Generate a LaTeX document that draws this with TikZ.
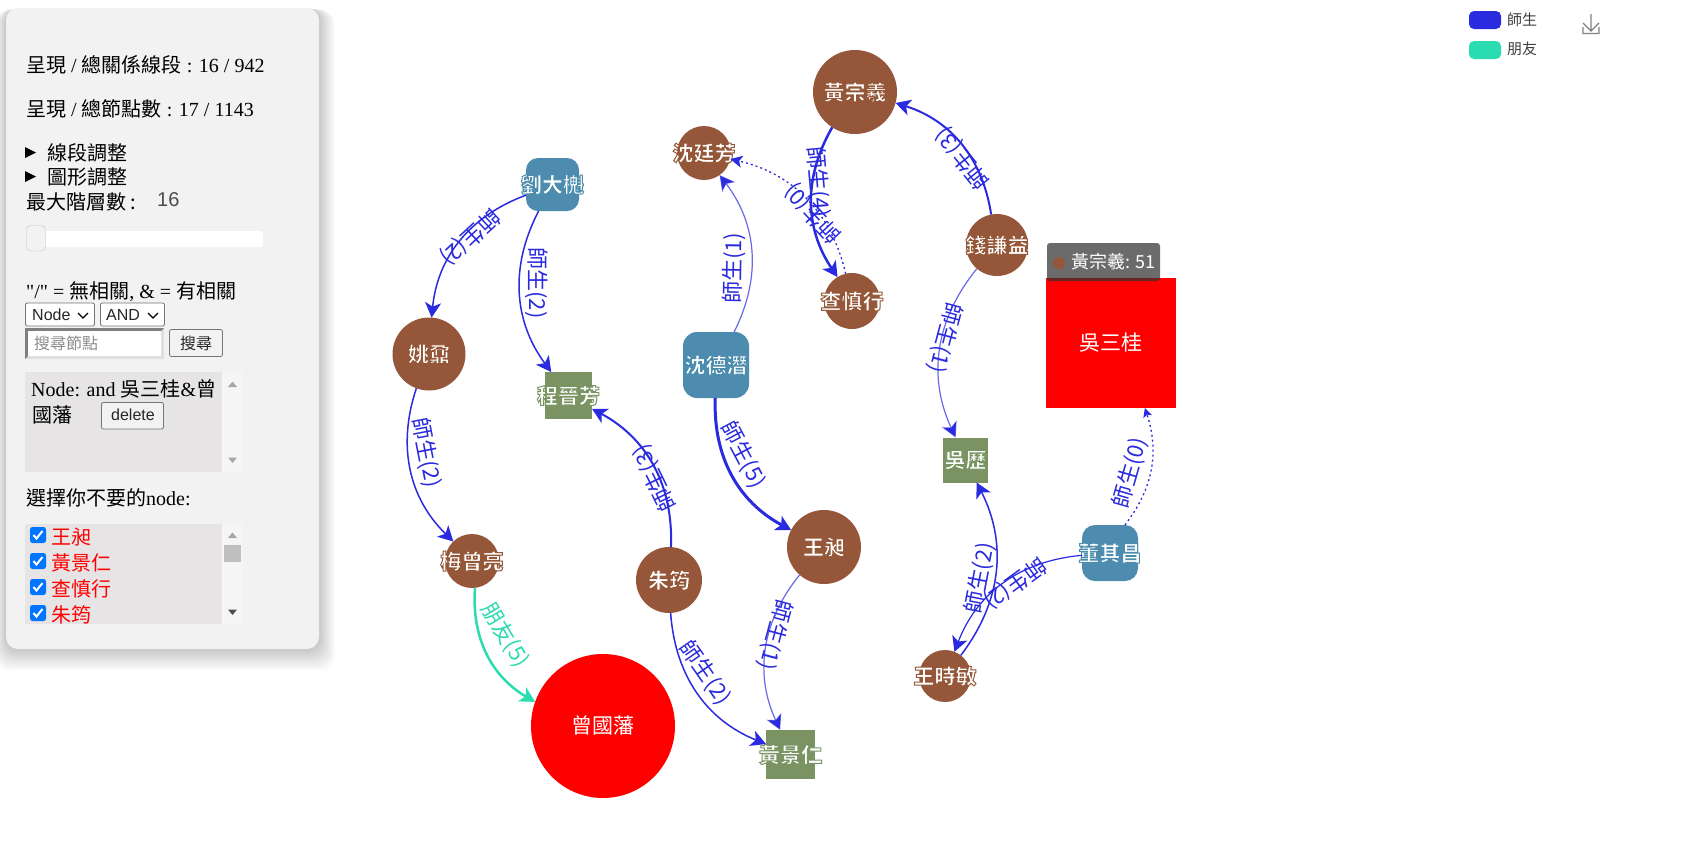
\documentclass[tikz,border=0pt]{standalone}
\usepackage{fontspec}
\usetikzlibrary{arrows.meta}
\setmainfont{Liberation Serif}
\setsansfont{Liberation Sans}
\newfontfamily\cjk{Noto Sans CJK TC}
\newfontfamily\plainserif{Liberation Serif}
\definecolor{nodebrown}{HTML}{955639}
\definecolor{nodeblue}{HTML}{4D8CAE}
\definecolor{nodegreen}{HTML}{7B9363}
\definecolor{edgeblue}{HTML}{2A2ADF}
\definecolor{edgegreen}{HTML}{2ADCB0}
\definecolor{panelgray}{HTML}{F2F2F2}
\definecolor{boxgray}{HTML}{E6E4E5}
\definecolor{checkblue}{HTML}{0075FF}
\newcommand{\px}[1]{\fontsize{#1}{#1}\selectfont}
\newcommand{\tc}[1]{{\cjk #1}}
\newcommand{\halo}[2]{\makebox[0pt][c]{\raisebox{2pt}{\special{pdf:code q 2 Tr 1 w #1 RG}\bfseries #2\special{pdf:code Q}}}}
\tikzset{
  graphname/.style={text=white,font=\cjk\px{21}},
  circ/.style={circle,fill=#1,graphname,inner sep=0pt,outer sep=0pt},
  squ/.style={rectangle,fill=#1,graphname,inner sep=0pt,outer sep=0pt},
  rsq/.style={rectangle,rounded corners=#1,fill=nodeblue,graphname,inner sep=0pt,outer sep=0pt},
  rel/.style={-{Stealth[length=15pt,width=16pt,inset=4pt]},edgeblue,line width=#1},
  weakrel/.style={rel=1.2pt,draw opacity=.7},
  zerorel/.style={-{Stealth[length=12pt,width=12pt,inset=3pt]},edgeblue,line width=1.3pt,dash pattern=on 2pt off 3pt},
  rlabel/.style={text=edgeblue,font=\cjk\px{22},inner sep=0pt},
  panel/.style={anchor=west,text=black,font=\px{20},inner sep=0pt},
  ctrl/.style={rounded corners=2pt,draw=black!54,line width=.8pt,fill=#1},
  ctrltext/.style={text=black!85,font=\sffamily\px{16},inner sep=0pt}
}
\newcommand{\brownname}[1]{\halo{0.58 0.34 0.22}{#1}}
\newcommand{\bluename}[1]{\halo{0.30 0.55 0.68}{#1}}
\newcommand{\greenname}[1]{\halo{0.48 0.58 0.39}{#1}}
\begin{document}
\begin{tikzpicture}[x=1pt,y=1pt]
\useasboundingbox (0,0) rectangle (1695,-863);
\fill[white] (0,0) rectangle (1695,-863);

% left panel
\foreach \s in {1,...,18}
  \fill[black,opacity=.012,rounded corners=14pt] (6-\s*.6,-8-\s*.1) rectangle (319+\s*.9,-649-\s*1.2);
\fill[panelgray,rounded corners=12pt] (6,-8) rectangle (319,-649);

\node[panel] (shown1) at (26,-65) {\tc{呈現} / \tc{總關係線段} : 16 / 942};
\node[panel] (shown2) at (26,-109) {\tc{呈現} / \tc{總節點數} : 17 / 1143};
\fill (25,-147) -- (36,-152.5) -- (25,-158) -- cycle;
\node[panel,font=\cjk\px{20}] (lineadj) at (47,-153) {線段調整};
\fill (25,-171) -- (36,-176.5) -- (25,-182) -- cycle;
\node[panel,font=\cjk\px{20}] (shapeadj) at (47,-177) {圖形調整};
\node[panel,font=\cjk\px{20}] (maxdepth) at (26,-202) {最大階層數 :};
\node[anchor=west,text=black!70,font=\sffamily\px{20},inner sep=0pt] (depthval) at (157,-200) {16};
\fill[white,rounded corners=3pt] (27,-231) rectangle (263,-247);
\draw[panelgray!80!black,fill=panelgray,rounded corners=4pt] (26.5,-225.5) rectangle (45.5,-251);

\node[panel] (hint) at (26,-292) {{\plainserif "/"} = \tc{無相關}, \& = \tc{有相關}};
\draw[ctrl=white] (25.5,-303) rectangle (94.5,-326);
\node[ctrltext,anchor=west] (selnode) at (32,-315) {Node};
\draw[line width=1.2pt] (78,-313) -- (83,-318) -- (88,-313);
\draw[ctrl=white] (100.5,-303) rectangle (164.5,-326);
\node[ctrltext,anchor=west] (seland) at (106,-315) {AND};
\draw[line width=1.2pt] (148,-313) -- (153,-318) -- (158,-313);
\fill[black!12] (25,-328) rectangle (164,-359);
\fill[black!50] (25,-328) -- (164,-328) -- (161,-331) -- (28,-331) -- (28,-356) -- (25,-359) -- cycle;
\fill[white] (28,-331) rectangle (161,-356);
\node[anchor=west,text=black!45,font=\cjk\px{16},inner sep=0pt] (searchbox) at (34,-343) {搜尋節點};
\draw[ctrl=panelgray] (169.5,-329.5) rectangle (222.5,-356.5);
\node[text=black!85,font=\cjk\px{16},inner sep=0pt] (searchbtn) at (196,-343) {搜尋};

\fill[panelgray!80!white] (222,-372) rectangle (243,-472);
\fill[boxgray] (25,-372) rectangle (222,-472);
\fill[black!35] (228,-387) -- (232.5,-381.5) -- (237,-387) -- cycle;
\fill[black!35] (228,-457.5) -- (232.5,-463) -- (237,-457.5) -- cycle;
\node[panel] (query1) at (31,-389) {Node: and \tc{吳三桂}\&\tc{曾}};
\node[panel,font=\cjk\px{20}] (query2) at (32,-415) {國藩};
\draw[ctrl=panelgray] (101.5,-402.5) rectangle (163.5,-429);
\node[ctrltext] (delbtn) at (133,-415) {delete};

\node[panel] (pick) at (26,-498) {\tc{選擇你不要的}node:};
\fill[panelgray!80!white] (222,-524) rectangle (243,-624);
\fill[boxgray] (25,-524) rectangle (222,-624);
\fill[black!35] (228,-538) -- (232.5,-532.5) -- (237,-538) -- cycle;
\fill[black!25] (224,-545) rectangle (241,-562);
\fill[black!70] (228,-609.5) -- (232.5,-615) -- (237,-609.5) -- cycle;
\foreach \yy/\txt in {535/王昶,561/黃景仁,587/查慎行,613/朱筠}{
  \fill[checkblue,rounded corners=2.5pt] (30,-\yy+8) rectangle (46,-\yy-8);
  \draw[white,line width=2pt] (33.5,-\yy) -- (36.5,-\yy-3.5) -- (42.5,-\yy+4);
  \node[panel,text=red,font=\cjk\px{20}] at (51,-\yy-2) {\txt};
}

% legend and download icon
\fill[edgeblue,rounded corners=5pt] (1469,-11) rectangle (1501,-29);
\node[anchor=west,text=black!75,font=\cjk\px{15},inner sep=0pt] (legendteach) at (1507,-20) {師生};
\fill[edgegreen,rounded corners=5pt] (1469,-41) rectangle (1501,-59);
\node[anchor=west,text=black!75,font=\cjk\px{15},inner sep=0pt] (legendfriend) at (1507,-49) {朋友};
\draw[black!50,line width=1.2pt] (1591,-14) -- (1591,-31) (1583,-23) -- (1591,-31) -- (1599,-23) (1583,-27) -- (1583,-33.5) -- (1599,-33.5) -- (1599,-27);

% nodes
\node[circ=nodebrown,minimum size=84pt] (huang) at (855,-92) {\brownname{黃宗羲}};
\node[circ=nodebrown,minimum size=54pt] (shenting) at (704,-153) {\brownname{沈廷芳}};
\node[circ=nodebrown,minimum size=56pt] (zha) at (852,-301) {\brownname{查慎行}};
\node[circ=nodebrown,minimum size=62pt] (qian) at (997,-245) {\brownname{錢謙益}};
\node[circ=nodebrown,minimum size=73pt] (yao) at (429,-354) {\brownname{姚鼐}};
\node[circ=nodebrown,minimum size=54pt] (mei) at (472,-561) {\brownname{梅曾亮}};
\node[circ=nodebrown,minimum size=66pt] (zhu) at (669,-580) {\brownname{朱筠}};
\node[circ=nodebrown,minimum size=74pt] (wangc) at (824,-547) {\brownname{王昶}};
\node[circ=nodebrown,minimum size=52pt] (wangs) at (945,-676) {\brownname{王時敏}};
\node[circ=red,minimum size=144pt] (zeng) at (603,-726) {\raisebox{3pt}{曾國藩}};
\node[squ=red,minimum size=130pt] (wu) at (1110.5,-343) {\raisebox{2pt}{吳三桂}};
\node[squ=nodegreen,minimum size=47pt] (cheng) at (568.5,-395.5) {\greenname{程晉芳}};
\node[squ=nodegreen,minimum size=49pt] (huangj) at (790.5,-754.5) {\greenname{黃景仁}};
\node[squ=nodegreen,minimum size=45pt] (wuli) at (965.5,-460) {\greenname{吳歷}};
\node[rsq=12pt,minimum size=53pt] (liu) at (552.5,-184.5) {\bluename{劉大櫆}};
\node[rsq=14pt,minimum size=66pt] (shende) at (716,-365) {\bluename{沈德潛}};
\node[rsq=13pt,minimum size=56pt] (dong) at (1110,-553) {\bluename{董其昌}};

% connectors
\draw[rel=1.5pt] (liu) to[bend right=32] (yao);
\draw[rel=1.5pt] (liu) to[bend right=32] (cheng);
\draw[rel=1.5pt] (yao) to[bend right=32] (mei);
\draw[rel=2.5pt,edgegreen] (mei) to[bend right=32] (zeng);
\draw[rel=2pt] (zhu) to[bend right=32] (cheng);
\draw[rel=1.5pt] (zhu) to[bend right=32] (huangj);
\draw[weakrel] (wangc) to[bend right=32] (huangj);
\draw[rel=3pt] (shende) to[bend right=32] (wangc);
\draw[weakrel] (shende) to[bend right=32] (shenting);
\draw[rel=2.5pt] (huang) to[bend right=32] (zha);
\draw[zerorel] (zha) to[bend right=32] (shenting);
\draw[rel=2pt] (qian) to[bend right=32] (huang);
\draw[weakrel] (qian) to[bend right=32] (wuli);
\draw[rel=1.5pt] (wangs) to[bend right=32] (wuli);
\draw[rel=1.2pt] (dong) to[bend right=32] (wangs);
\draw[zerorel,-{Stealth[length=9pt,width=9pt,inset=2pt]}] (dong) to[bend right=28] (wu);

% connector labels
\node[rlabel,rotate=-137] (l1) at (470,-237) {師生(2)};
\node[rlabel,rotate=-90] (l2) at (537,-283) {師生(2)};
\node[rlabel,rotate=-79] (l3) at (426,-453) {師生(2)};
\node[rlabel,rotate=-59,text=edgegreen] (l4) at (505,-635) {朋友(5)};
\node[rlabel,rotate=116] (l5) at (655,-478) {師生(3)};
\node[rlabel,rotate=-55] (l6) at (705,-673) {師生(2)};
\node[rlabel,rotate=-105] (l7) at (775,-635) {師生(1)};
\node[rlabel,rotate=-62] (l8) at (743,-455) {師生(5)};
\node[rlabel,rotate=89] (l9) at (734,-268) {師生(1)};
\node[rlabel,rotate=-85] (l10) at (818,-182) {師生(4)};
\node[rlabel,rotate=133] (l11) at (813,-213) {師生(0)};
\node[rlabel,rotate=129] (l12) at (963,-158) {師生(3)};
\node[rlabel,rotate=-105] (l13) at (945,-338) {師生(1)};
\node[rlabel,rotate=79] (l14) at (980,-578) {師生(2)};
\node[rlabel,rotate=216] (l15) at (1015,-583) {師生(2)};
\node[rlabel,rotate=74] (l16) at (1130,-473) {師生(0)};

% tooltip
\fill[black!60!gray,opacity=.72,rounded corners=3pt] (1047,-243) rectangle (1160,-281);
\fill[nodebrown] (1059,-263) circle (6);
\node[anchor=west,text=white,font=\cjk\px{18},inner sep=0pt] (tip) at (1071,-262) {黃宗羲: 51};
\end{tikzpicture}
\end{document}
